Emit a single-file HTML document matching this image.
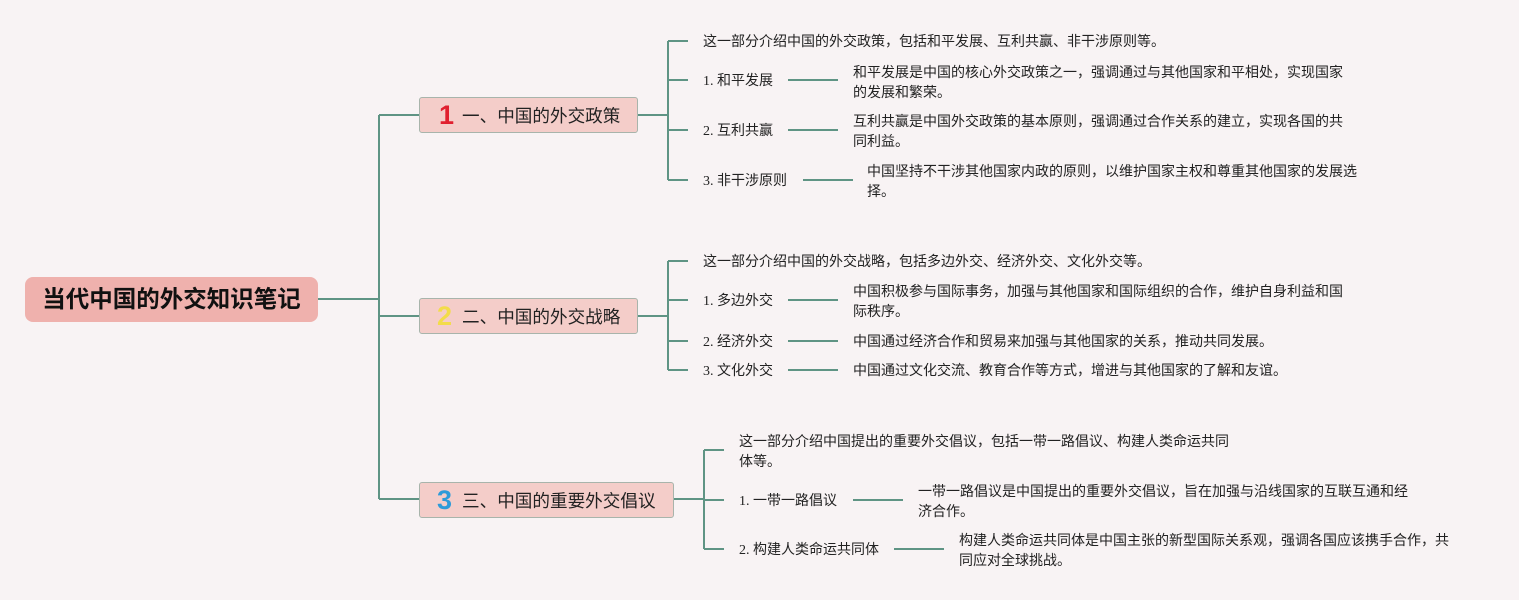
<!DOCTYPE html>
<html>
<head>
<meta charset="utf-8">
<style>
  html,body{margin:0;padding:0;}
  body{width:1519px;height:600px;background:#f8f3f4;position:relative;overflow:hidden;
    font-family:"Liberation Serif","Noto Sans CJK SC",serif;color:#222;}
  svg{position:absolute;left:0;top:0;}
  .t{position:absolute;font-size:14px;line-height:20px;white-space:nowrap;color:#222;margin-top:2px;}
  .root{position:absolute;left:25px;top:277px;width:293px;height:45px;background:#efb1ad;border-radius:8px;
    font-family:"Liberation Sans","Noto Sans CJK SC",sans-serif;font-weight:bold;font-size:23.5px;line-height:45px;text-align:center;color:#111;}
  .br{position:absolute;background:#f4cdc9;border:1.5px solid #a8b4ab;border-radius:3px;box-sizing:border-box;}
  .bt{position:absolute;font-family:"Liberation Sans","Noto Sans CJK SC",sans-serif;font-size:17.6px;line-height:24px;white-space:nowrap;color:#222;margin-top:1px;}
  .num{position:absolute;font-family:"Liberation Sans","DejaVu Sans",sans-serif;font-weight:bold;font-size:27px;line-height:30px;}
</style>
</head>
<body>
<svg width="1519" height="600" viewBox="0 0 1519 600">
  <g stroke="#5f9484" stroke-width="2" fill="none">
    <line x1="318" y1="299" x2="379" y2="299"/>
    <line x1="379" y1="115" x2="379" y2="499"/>
    <line x1="379" y1="115" x2="419" y2="115"/>
    <line x1="379" y1="316" x2="419" y2="316"/>
    <line x1="379" y1="499" x2="419" y2="499"/>
    <line x1="638" y1="115" x2="668" y2="115"/>
    <line x1="668" y1="41" x2="668" y2="180"/>
    <line x1="668" y1="41" x2="688" y2="41"/>
    <line x1="668" y1="80" x2="688" y2="80"/>
    <line x1="668" y1="130" x2="688" y2="130"/>
    <line x1="668" y1="180" x2="688" y2="180"/>
    <line x1="788" y1="80" x2="838" y2="80"/>
    <line x1="788" y1="130" x2="838" y2="130"/>
    <line x1="803" y1="180" x2="853" y2="180"/>
    <line x1="638" y1="316" x2="668" y2="316"/>
    <line x1="668" y1="261" x2="668" y2="370"/>
    <line x1="668" y1="261" x2="688" y2="261"/>
    <line x1="668" y1="300" x2="688" y2="300"/>
    <line x1="668" y1="341" x2="688" y2="341"/>
    <line x1="668" y1="370" x2="688" y2="370"/>
    <line x1="788" y1="300" x2="838" y2="300"/>
    <line x1="788" y1="341" x2="838" y2="341"/>
    <line x1="788" y1="370" x2="838" y2="370"/>
    <line x1="674" y1="499" x2="704" y2="499"/>
    <line x1="704" y1="450" x2="704" y2="549"/>
    <line x1="704" y1="450" x2="724" y2="450"/>
    <line x1="704" y1="500" x2="724" y2="500"/>
    <line x1="704" y1="549" x2="724" y2="549"/>
    <line x1="853" y1="500" x2="903" y2="500"/>
    <line x1="894" y1="549" x2="944" y2="549"/>
  </g>
</svg>

<div class="root">当代中国的外交知识笔记</div>

<div class="br" style="left:419px;top:97px;width:219px;height:36px;"></div>
<div class="num" style="left:439px;top:100px;color:#e0202f;">1</div>
<div class="bt" style="left:462px;top:103px;">一、中国的外交政策</div>

<div class="br" style="left:419px;top:298px;width:219px;height:36px;"></div>
<div class="num" style="left:437px;top:301px;color:#f3dc4a;">2</div>
<div class="bt" style="left:462px;top:304px;">二、中国的外交战略</div>

<div class="br" style="left:419px;top:482px;width:255px;height:36px;"></div>
<div class="num" style="left:437px;top:485px;color:#2e9bd9;">3</div>
<div class="bt" style="left:462px;top:488px;">三、中国的重要外交倡议</div>

<div class="t" style="left:703px;top:31px;">这一部分介绍中国的外交政策，包括和平发展、互利共赢、非干涉原则等。</div>
<div class="t" style="left:703px;top:70px;">1. 和平发展</div>
<div class="t" style="left:853px;top:62px;">和平发展是中国的核心外交政策之一，强调通过与其他国家和平相处，实现国家<br>的发展和繁荣。</div>
<div class="t" style="left:703px;top:120px;">2. 互利共赢</div>
<div class="t" style="left:853px;top:111px;">互利共赢是中国外交政策的基本原则，强调通过合作关系的建立，实现各国的共<br>同利益。</div>
<div class="t" style="left:703px;top:170px;">3. 非干涉原则</div>
<div class="t" style="left:867px;top:161px;">中国坚持不干涉其他国家内政的原则，以维护国家主权和尊重其他国家的发展选<br>择。</div>

<div class="t" style="left:703px;top:251px;">这一部分介绍中国的外交战略，包括多边外交、经济外交、文化外交等。</div>
<div class="t" style="left:703px;top:290px;">1. 多边外交</div>
<div class="t" style="left:853px;top:281px;">中国积极参与国际事务，加强与其他国家和国际组织的合作，维护自身利益和国<br>际秩序。</div>
<div class="t" style="left:703px;top:331px;">2. 经济外交</div>
<div class="t" style="left:853px;top:331px;">中国通过经济合作和贸易来加强与其他国家的关系，推动共同发展。</div>
<div class="t" style="left:703px;top:360px;">3. 文化外交</div>
<div class="t" style="left:853px;top:360px;">中国通过文化交流、教育合作等方式，增进与其他国家的了解和友谊。</div>

<div class="t" style="left:739px;top:431px;">这一部分介绍中国提出的重要外交倡议，包括一带一路倡议、构建人类命运共同<br>体等。</div>
<div class="t" style="left:739px;top:490px;">1. 一带一路倡议</div>
<div class="t" style="left:918px;top:481px;">一带一路倡议是中国提出的重要外交倡议，旨在加强与沿线国家的互联互通和经<br>济合作。</div>
<div class="t" style="left:739px;top:539px;">2. 构建人类命运共同体</div>
<div class="t" style="left:959px;top:530px;">构建人类命运共同体是中国主张的新型国际关系观，强调各国应该携手合作，共<br>同应对全球挑战。</div>
</body>
</html>
